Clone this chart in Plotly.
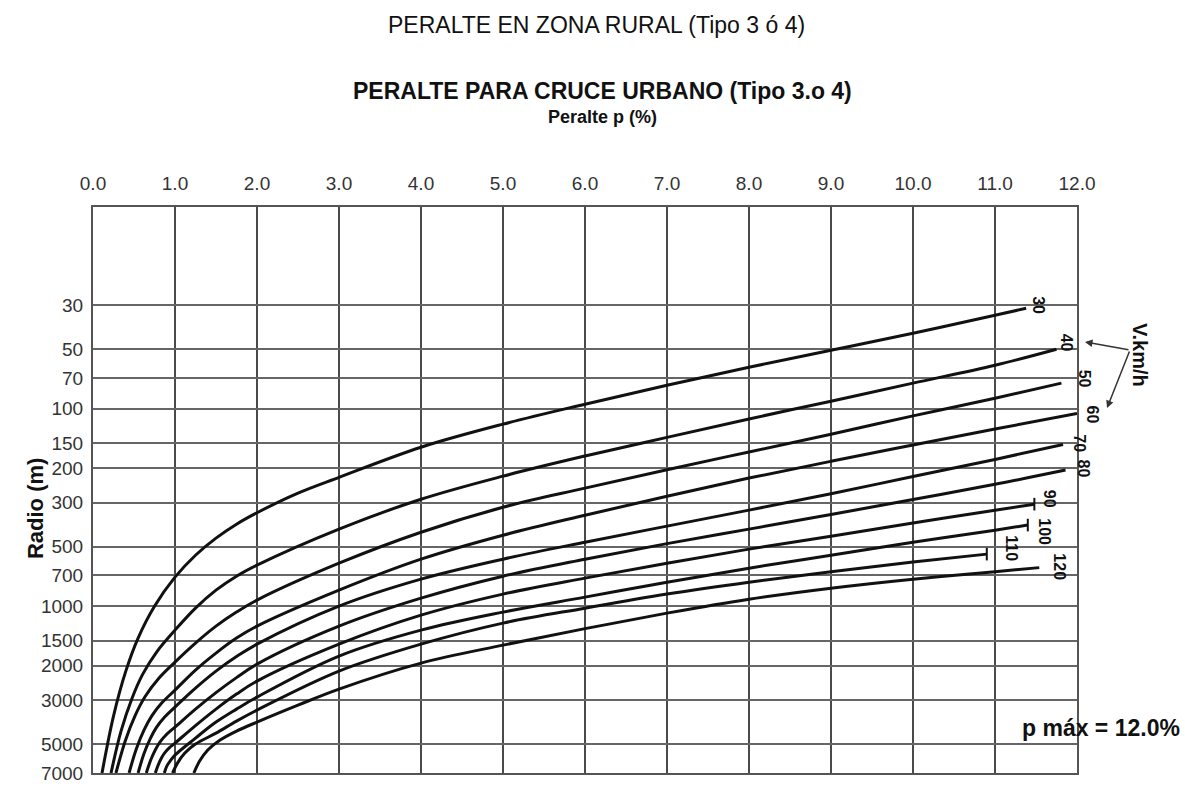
import numpy as np
import plotly.graph_objects as go

# Design speeds (km/h)
speeds = [30, 40, 50, 60, 70, 80, 90, 100, 110, 120]

# Peralte p (%) and radius R (m) sampled along each speed curve
p_30 = [0.11, 0.25, 0.4, 0.55, 0.75, 1, 1.25, 1.5, 1.75, 2, 2.5, 3, 4, 5, 6, 7, 8, 9, 10, 11, 11.38]
r_30 = [7000, 3606, 2136, 1452, 1002, 714, 553, 453, 385, 337, 268, 223, 157, 120, 95.1, 76.2, 61.8, 50.7, 41.6, 33.7, 31.1]

p_40 = [0.22, 0.34, 0.474, 0.605, 0.78, 1, 1.25, 1.5, 1.75, 2, 3, 4, 5, 6, 7, 8, 9, 10, 11, 11.75]
r_40 = [7000, 4320, 2944, 2218, 1699, 1324, 1024, 831, 706, 621, 408, 288, 220, 174, 140, 113, 91.8, 74.4, 60.4, 50.1]

p_50 = [0.28, 0.393, 0.515, 0.636, 0.798, 1, 1.25, 1.5, 1.75, 2, 3, 4, 5, 6, 7, 8, 9, 10, 11, 11.81]
r_50 = [7000, 4815, 3576, 2870, 2332, 1922, 1540, 1264, 1073, 933, 607, 423, 316, 253, 204, 166, 135, 109, 88.7, 74.4]

p_60 = [0.44, 0.528, 0.623, 0.717, 0.843, 1, 1.25, 1.5, 1.75, 2, 3, 4, 5, 6, 7, 8, 9, 10, 11, 12]
r_60 = [7000, 5292, 4236, 3594, 3081, 2664, 2110, 1731, 1453, 1264, 831, 579, 438, 347, 278, 225, 185, 153, 127, 106]

p_70 = [0.55, 0.62, 0.697, 0.772, 0.874, 1, 1.25, 1.5, 1.75, 2, 3, 4, 5, 6, 7, 8, 9, 10, 11, 11.83]
r_70 = [7000, 5610, 4698, 4122, 3645, 3246, 2603, 2135, 1802, 1559, 1001, 731, 579, 475, 394, 327, 270, 221, 181, 152]

p_80 = [0.65, 0.705, 0.764, 0.823, 0.902, 1, 1.25, 1.5, 1.75, 2, 3, 4, 5, 6, 7, 8, 9, 10, 11, 11.86]
r_80 = [7000, 6000, 5304, 4842, 4443, 4098, 3324, 2743, 2303, 1968, 1264, 912, 706, 579, 483, 408, 344, 289, 242, 205]

p_90 = [0.76, 0.798, 0.838, 0.879, 0.933, 1, 1.25, 1.5, 1.75, 2, 3, 4, 5, 6, 7, 8, 9, 10, 11, 11.48]
r_90 = [7000, 6333, 5844, 5505, 5208, 4941, 4029, 3324, 2791, 2398, 1559, 1112, 870, 722, 607, 515, 443, 380, 327, 305]

p_100 = [0.87, 0.9, 0.94, 1, 1.25, 1.5, 1.75, 2, 3, 4, 5, 6, 7, 8, 9, 10, 11, 11.4]
r_100 = [7000, 6459, 6093, 5682, 4662, 3867, 3324, 2890, 1792, 1324, 1073, 901, 757, 643, 553, 475, 413, 389]

p_110 = [0.97, 1.03, 1.12, 1.25, 1.5, 1.75, 2, 3, 4, 5, 6, 7, 8, 9, 10, 10.9]
r_110 = [7000, 6237, 5550, 4998, 4398, 3822, 3363, 2135, 1559, 1220, 1025, 870, 757, 670, 599, 546]

p_120 = [1.23, 1.3, 1.4, 1.55, 1.75, 2, 2.5, 3, 4, 5, 6, 7, 8, 9, 10, 11, 11.54]
r_120 = [7000, 6093, 5358, 4770, 4296, 3867, 3174, 2633, 1945, 1577, 1301, 1086, 923, 812, 731, 670, 639]

curve_p = {30: p_30, 40: p_40, 50: p_50, 60: p_60, 70: p_70,
           80: p_80, 90: p_90, 100: p_100, 110: p_110, 120: p_120}
curve_r = {30: r_30, 40: r_40, 50: r_50, 60: r_60, 70: r_70,
           80: r_80, 90: r_90, 100: r_100, 110: r_110, 120: r_120}

# Curves whose end carries a short cross tick
end_tick_speeds = [90, 100, 110]

# Axis ticks
x_ticks = list(range(0, 13))
x_ticktext = [f"{v:.1f}" for v in x_ticks]
y_ticks = [30, 50, 70, 100, 150, 200, 300, 500, 700, 1000, 1500, 2000, 3000, 5000, 7000]

# Pixel offsets of each speed label from the end of its curve
label_dx = {30: 13, 40: 10, 50: 23, 60: 15, 70: 17, 80: 18, 90: 15, 100: 17, 110: 25, 120: 20}
label_dy = {30: 3, 40: 7, 50: 4, 60: -1, 70: 1, 80: 2, 90: 5, 100: -7, 110: 6, 120: 1}

FONT = "Liberation Sans, Arial, sans-serif"
INK = "#111111"

fig = go.Figure()
for v in speeds:
    fig.add_trace(go.Scatter(
        x=curve_p[v], y=curve_r[v], mode="lines",
        line=dict(color=INK, width=3, shape="spline", smoothing=1.0),
        name=f"{v} km/h", hoverinfo="skip", showlegend=False,
    ))

fig.add_trace(go.Scatter(
    x=[curve_p[v][-1] for v in end_tick_speeds],
    y=[curve_r[v][-1] for v in end_tick_speeds],
    mode="markers", hoverinfo="skip", showlegend=False,
    marker=dict(symbol="line-ns", size=9, line=dict(color=INK, width=2)),
))

annotations = []
for v in speeds:
    annotations.append(dict(
        x=curve_p[v][-1], y=np.log10(curve_r[v][-1]), xref="x", yref="y",
        text=f"<b>{v}</b>", showarrow=False, textangle=90,
        xshift=label_dx[v], yshift=label_dy[v],
        font=dict(family=FONT, size=16, color=INK),
    ))


def paper_note(x, y, text, size, angle=0):
    return dict(x=x, y=y, xref="paper", yref="paper", text=text, showarrow=False,
                textangle=angle, xanchor="center", yanchor="middle",
                font=dict(family=FONT, size=size, color=INK))


# Speed key with its two pointers
annotations.append(paper_note(1.064, 0.7385, "<b>V.km/h</b>", 20, 90))
annotations.append(dict(
    x=1.0081, y=0.7615, xref="paper", yref="paper", text="", showarrow=True,
    ax=45, ay=8, arrowhead=2, arrowsize=1, arrowwidth=1.5, arrowcolor="#333333",
))
annotations.append(dict(
    x=1.0305, y=0.6449, xref="paper", yref="paper", text="", showarrow=True,
    ax=23, ay=-58, arrowhead=2, arrowsize=1, arrowwidth=1.5, arrowcolor="#333333",
))

# Titles and notes
annotations.append(paper_note(0.512, 1.3216, "PERALTE EN ZONA RURAL (Tipo 3 ó 4)", 23))
annotations.append(paper_note(0.518, 1.2049, "<b>PERALTE PARA CRUCE URBANO (Tipo 3.o 4)</b>", 23))
annotations.append(paper_note(0.518, 1.1590, "<b>Peralte p (%)</b>", 18))
annotations.append(paper_note(-0.059, 0.468, "<b>Radio (m)</b>", 22, -90))
annotations.append(paper_note(1.0244, 0.0795, "<b>p máx = 12.0%</b>", 23))

fig.update_layout(
    width=1185, height=789,
    margin=dict(l=93, r=108, t=207, b=16, autoexpand=False),
    paper_bgcolor="white", plot_bgcolor="white",
    showlegend=False,
    annotations=annotations,
    xaxis=dict(
        side="top", range=[0, 12], tickvals=x_ticks, ticktext=x_ticktext,
        showgrid=True, gridcolor="#4a4a4a", gridwidth=2, zeroline=False,
        showline=True, linecolor="#555555", linewidth=2, mirror=True,
        ticks="", ticklabelstandoff=7, automargin=False,
        tickfont=dict(family=FONT, size=19, color="#333333"),
    ),
    yaxis=dict(
        type="log", range=[np.log10(7000), 0.98],
        tickvals=y_ticks, ticktext=[str(v) for v in y_ticks],
        showgrid=True, gridcolor="#666666", gridwidth=2, zeroline=False,
        showline=True, linecolor="#555555", linewidth=2, mirror=True,
        ticks="", ticklabelstandoff=4, automargin=False,
        tickfont=dict(family=FONT, size=19, color="#333333"),
    ),
)

fig.write_html("out.html")
